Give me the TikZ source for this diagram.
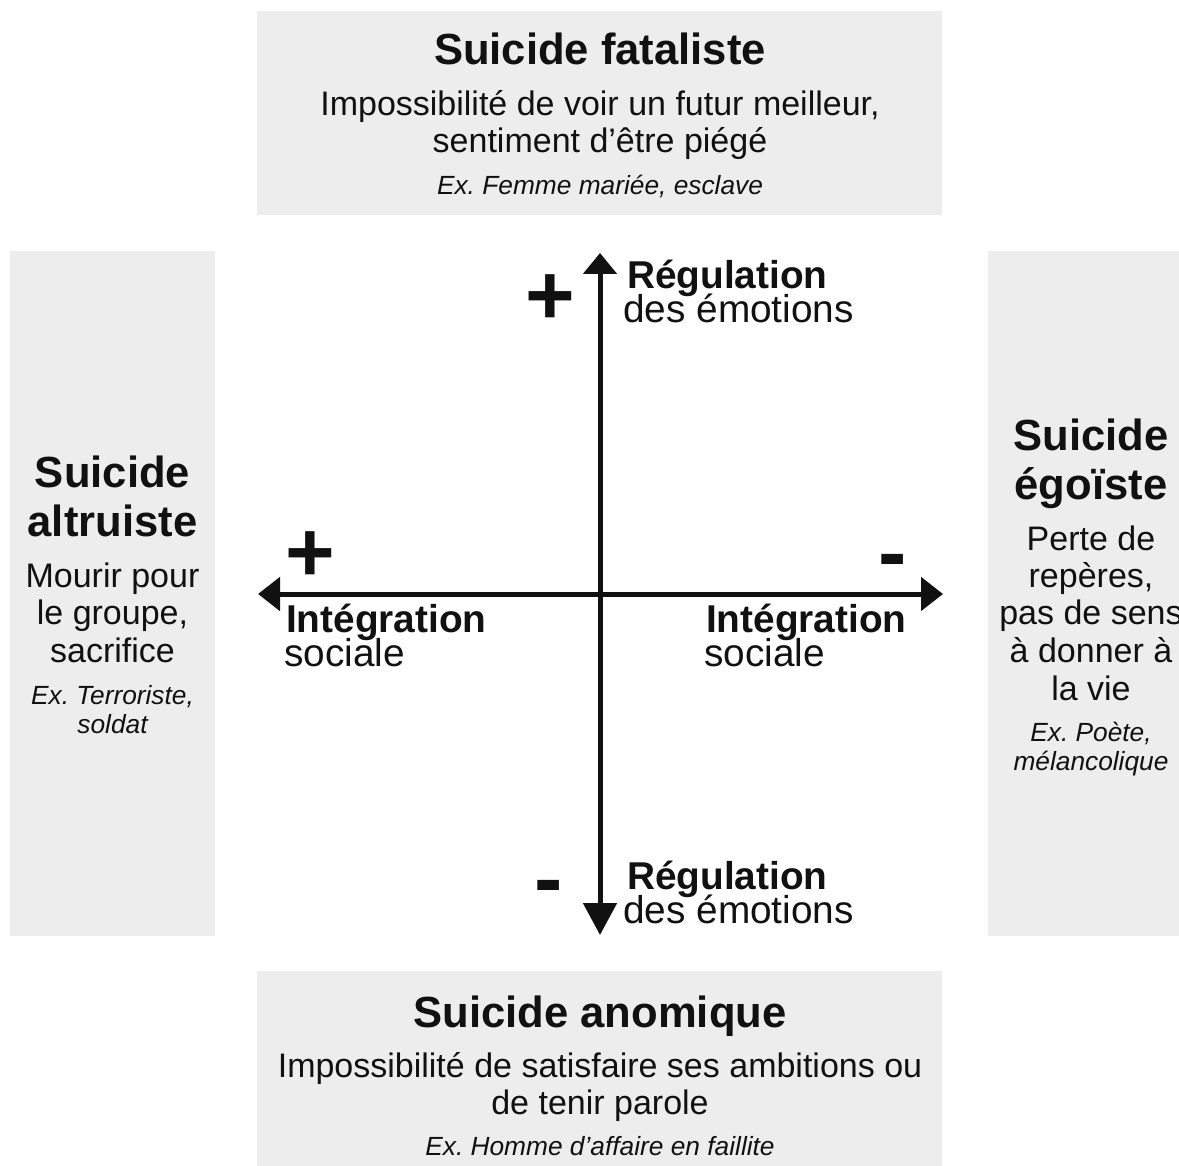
\documentclass[tikz,border=0pt]{standalone}
\usepackage{fontspec}
\setmainfont{Liberation Sans}
\usetikzlibrary{arrows.meta}
\definecolor{boxgray}{HTML}{EDEDED}
\definecolor{inkc}{HTML}{111111}
\frenchspacing
\begin{document}
\frenchspacing
\begin{tikzpicture}[x=1pt,y=-1pt,
  panel/.style={fill=boxgray, draw=none},
  ttl/.style={anchor=base, inner sep=0pt, text=inkc, font=\bfseries\fontsize{43.6}{48}\selectfont},
  bod/.style={anchor=base, inner sep=0pt, text=inkc, font=\fontsize{34}{38}\selectfont},
  exl/.style={anchor=base, inner sep=0pt, text=inkc, font=\itshape\fontsize{26.3}{29}\selectfont},
  axb/.style={anchor=base west, inner sep=0pt, text=inkc, font=\bfseries\fontsize{38.8}{40}\selectfont},
  axr/.style={anchor=base west, inner sep=0pt, text=inkc, font=\fontsize{38.8}{40}\selectfont},
  sgn/.style={anchor=base, inner sep=0pt, text=inkc, font=\bfseries\fontsize{85}{90}\selectfont},
  axisline/.style={line width=5pt, draw=inkc},
]
\clip (0,0) rectangle (1179,1166);
\useasboundingbox (0,0) rectangle (1179,1166);

% panels
\path[panel] (257,11) rectangle (942,215);
\path[panel] (257,971) rectangle (942,1166);
\path[panel] (10,251) rectangle (215,936);
\path[panel] (988,251) rectangle (1185,936);

% axes
\coordinate (vtop) at (600,253);
\coordinate (vbot) at (600,935);
\coordinate (hl) at (258,594);
\coordinate (hr) at (943,594);
\draw[axisline, {Triangle[length=21pt,width=33pt]}-{Triangle[length=32pt,width=33pt]}] (vtop) -- (vbot);
\draw[axisline, {Triangle[length=22pt,width=33pt]}-{Triangle[length=22pt,width=33pt]}] (hl) -- (hr);

% top panel
\node[ttl] (t1) at (600,65) {Suicide fataliste};
\node[bod] (t2) at (600,116) {Impossibilité de voir un futur meilleur,};
\node[bod] (t3) at (600,153) {sentiment d’être piégé};
\node[exl] (t4) at (600,195) {Ex. Femme mariée, esclave};

% bottom panel
\node[ttl] (b1) at (600,1027) {Suicide anomique};
\node[bod] (b2) at (600,1077) {Impossibilité de satisfaire ses ambitions ou};
\node[bod] (b3) at (600,1114) {de tenir parole};
\node[exl] (b4) at (600,1155) {Ex. Homme d’affaire en faillite};

% left panel
\node[ttl] (l1) at (112.5,487) {Suicide};
\node[ttl] (l2) at (112.5,536) {altruiste};
\node[bod] (l3) at (112.5,587) {Mourir pour};
\node[bod] (l4) at (112.5,624) {le groupe,};
\node[bod] (l5) at (112.5,662) {sacrifice};
\node[exl] (l6) at (112.5,704) {Ex. Terroriste,};
\node[exl] (l7) at (112.5,733) {soldat};

% right panel
\node[ttl] (r1) at (1091,450) {Suicide};
\node[ttl] (r2) at (1091,499) {égoïste};
\node[bod] (r3) at (1091,550) {Perte de};
\node[bod] (r4) at (1091,587) {repères,};
\node[bod] (r5) at (1091,624) {pas de sens};
\node[bod] (r6) at (1091,662) {à donner à};
\node[bod] (r7) at (1091,700) {la vie};
\node[exl] (r8) at (1091,741) {Ex. Poète,};
\node[exl] (r9) at (1091,770) {mélancolique};

% axis labels
\node[axb] (ra1) at (627,289) {Régulation};
\node[axr] (ra2) at (623,323) {des émotions};
\node[axb] (rb1) at (627,889) {Régulation};
\node[axr] (rb2) at (623,923) {des émotions};
\node[axb] (ia1) at (286,632) {Intégration};
\node[axr] (ia2) at (284,666) {sociale};
\node[axb] (ib1) at (706,632) {Intégration};
\node[axr] (ib2) at (704,666) {sociale};

% signs
\node[sgn] (s1) at (550,325) {+};
\node[sgn] (s2) at (310,581) {+};
\node[sgn] (s3) at (893,581) {-};
\node[sgn] (s4) at (549,907) {-};
\end{tikzpicture}
\end{document}
